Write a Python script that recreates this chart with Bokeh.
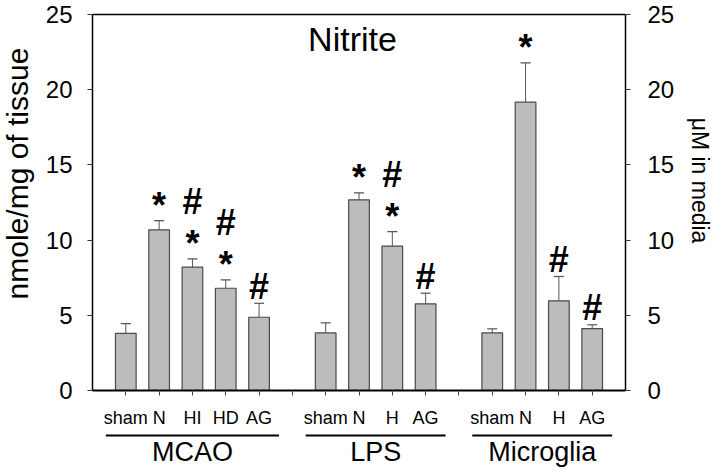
import math
from bokeh.plotting import figure
from bokeh.models import Range1d, LinearAxis, FixedTicker, Whisker, TeeHead, ColumnDataSource
from bokeh.core.properties import value
from bokeh.embed import file_html
from bokeh.resources import INLINE

# ---------------- data ----------------
groups = ["MCAO", "LPS", "Microglia"]
group_sizes = [5, 4, 4]
categories = ["sham", "N", "HI", "HD", "AG",
              "sham", "N", "H", "AG",
              "sham", "N", "H", "AG"]
nitrite = [3.80, 10.68, 8.20, 6.80, 4.87,
           3.83, 12.68, 9.60, 5.76,
           3.83, 19.17, 5.96, 4.12]
sem = [0.65, 0.62, 0.55, 0.56, 0.93,
       0.67, 0.46, 0.97, 0.71,
       0.27, 2.61, 1.62, 0.25]
marks = ["", "*", "*#", "*#", "#",
         "", "*", "*#", "#",
         "", "*", "#", "#"]
y_ticks = [0, 5, 10, 15, 20, 25]
y_max = 25
title_text = "Nitrite"
left_label = "nmole/mg of tissue"
right_label = "\u03bcM in media"

# ---------------- layout ----------------
W, H = 712, 468
FL, FR, FT, FB = 92, 625, 14, 390      # pixel box of the 0..slots x 0..25 area
FONT = value("Liberation Sans")

xs = []
group_slots = []
slot = 0
for n in group_sizes:
    sl = []
    for _ in range(n):
        slot += 1
        sl.append(slot)
    xs.extend(sl)
    group_slots.append(sl)
    slot += 1
n_slots = slot

PXX = (FR - FL) / n_slots
PX = (FB - FT) / y_max


def dx(px):
    return (px - FL) / PXX


def dy(py):
    return (FB - py) / PX


p = figure(width=W, height=H,
           x_range=Range1d(dx(0), dx(W)), y_range=Range1d(dy(H), dy(0)),
           output_backend="svg", toolbar_location=None,
           min_border_left=0, min_border_right=0, min_border_top=0, min_border_bottom=0,
           x_axis_type=None, y_axis_type=None)
p.outline_line_color = None
p.background_fill_color = "white"
p.border_fill_color = "white"

# x axis at y = 0
overrides = {}
for t in range(1, n_slots):
    overrides[t] = ""
for x, c in zip(xs, categories):
    overrides[x] = c
xaxis = LinearAxis(ticker=FixedTicker(ticks=list(range(1, n_slots)), minor_ticks=[]),
                   major_label_overrides=overrides, fixed_location=0, bounds=(0, n_slots))
xaxis.axis_line_width = 2
xaxis.axis_line_color = "black"
xaxis.major_tick_in = 0
xaxis.major_tick_out = 5
xaxis.major_tick_line_color = "#444444"
xaxis.minor_tick_line_color = None
xaxis.major_label_standoff = 12
xaxis.major_label_text_font = "Liberation Sans"
xaxis.major_label_text_font_size = "18px"
xaxis.major_label_text_color = "black"
p.add_layout(xaxis, "below")


def style_y(ax):
    ax.axis_line_width = 1.5
    ax.axis_line_color = "black"
    ax.major_tick_in = 0
    ax.major_tick_out = 5
    ax.major_tick_line_color = "#333333"
    ax.minor_tick_line_color = None
    ax.major_label_text_font = "Liberation Sans"
    ax.major_label_text_font_size = "24px"
    ax.major_label_text_color = "black"


yl = LinearAxis(ticker=FixedTicker(ticks=y_ticks, minor_ticks=[]), bounds=(0, y_max),
                fixed_location=0)
style_y(yl)
yl.major_label_standoff = 15
p.add_layout(yl, "left")

yr = LinearAxis(ticker=FixedTicker(ticks=y_ticks, minor_ticks=[]), bounds=(0, y_max),
                fixed_location=n_slots)
style_y(yr)
yr.major_label_standoff = 17
p.add_layout(yr, "right")

top = LinearAxis(ticker=FixedTicker(ticks=[], minor_ticks=[]), bounds=(0, n_slots),
                 fixed_location=y_max)
top.axis_line_width = 1.5
top.axis_line_color = "black"
top.major_tick_out = 0
top.major_tick_in = 0
top.major_label_text_font_size = "0px"
p.add_layout(top, "above")

# axis titles
p.text(x=[dx(17)], y=[dy(173)], text=[left_label], angle=math.pi / 2,
       text_align="center", text_baseline="middle",
       text_font=FONT, text_font_size="30px", text_color="black")
p.text(x=[dx(699)], y=[dy(180)], text=[right_label], angle=-math.pi / 2,
       text_align="center", text_baseline="middle",
       text_font=FONT, text_font_size="23px", text_color="black")

# bars
src = ColumnDataSource(dict(x=xs, top=nitrite,
                            upper=[m + s for m, s in zip(nitrite, sem)]))
p.vbar(x="x", top="top", bottom=0, width=0.62, source=src,
       fill_color="#bcbcbc", line_color="#4a4a4a", line_width=1.2)
p.add_layout(Whisker(base="x", lower="top", upper="upper", source=src,
                     dimension="height", line_color="#555555", line_width=1,
                     lower_head=None,
                     upper_head=TeeHead(size=10, line_color="#555555", line_width=1.2)))

# significance marks
mx, my, mt = [], [], []
for x, m, s, mk in zip(xs, nitrite, sem, marks):
    base = m + s
    y = None
    for i, ch in enumerate(mk):
        if i == 0:
            y = base + (1.0 if ch == "*" else 1.13)
        else:
            y = y + 2.8
        mx.append(x)
        my.append(y)
        mt.append(ch)
p.text(x=mx, y=my, text=mt, text_align="center", text_baseline="alphabetic",
       text_font=FONT, text_font_style="bold", text_font_size="36px", text_color="black")

# group underlines and labels
cx, hw = [], []
for sl in group_slots:
    cx.append(sum(sl) / len(sl))
    hw.append(len(sl) / 2.0 + 0.1)
p.segment(x0=[c - h for c, h in zip(cx, hw)], x1=[c + h for c, h in zip(cx, hw)],
          y0=dy(435), y1=dy(435), line_color="black", line_width=2)
p.text(x=cx, y=[dy(451)] * len(cx), text=groups, text_align="center",
       text_baseline="middle", text_font=FONT, text_font_size="27px",
       text_color="black")

# title
p.text(x=[dx(352)], y=[dy(38)], text=[title_text], text_align="center",
       text_baseline="middle", text_font=FONT, text_font_size="34px",
       text_color="black")

open("out.html", "w").write(file_html(p, INLINE))
